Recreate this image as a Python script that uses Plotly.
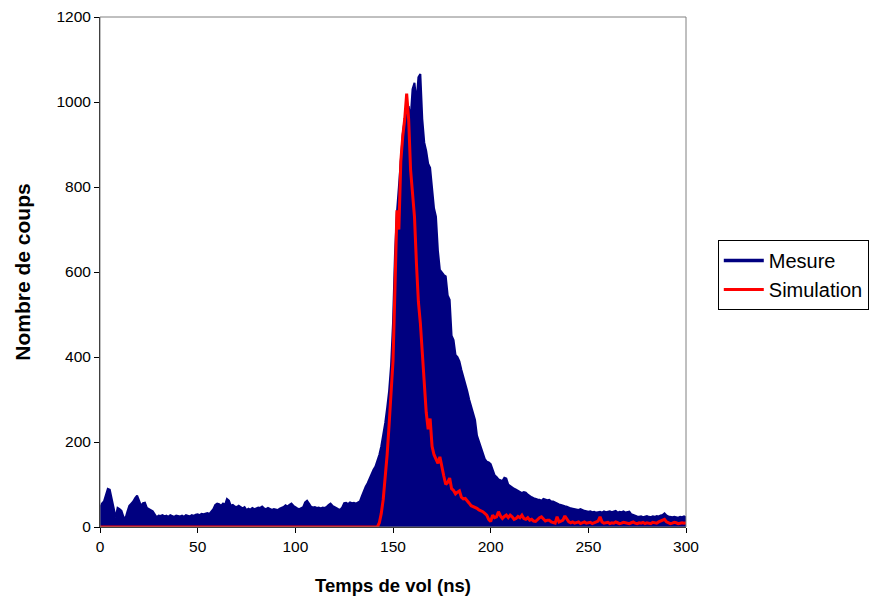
import plotly.graph_objects as go

# Temps de vol (ns), pas de 1 ns
temps = list(range(0, 301))

mesure = [
    45, 55, 60, 75, 90, 88, 70, 45, 22, 45,
    42, 38, 24, 20, 36, 50, 55, 60, 68, 74,
    62, 50, 56, 57, 45, 42, 40, 37, 30, 23,
    27, 26, 28, 25, 27, 24, 28, 26, 24, 27,
    26, 25, 27, 24, 28, 27, 25, 28, 26, 29,
    30, 28, 31, 30, 32, 33, 31, 36, 42, 52,
    55, 54, 50, 55, 52, 66, 62, 50, 52, 48,
    47, 50, 46, 44, 47, 40, 43, 41, 45, 42,
    44, 46, 45, 48, 44, 42, 45, 43, 40, 42,
    41, 40, 43, 45, 47, 51, 48, 52, 55, 50,
    46, 44, 42, 45, 47, 58, 62, 55, 48, 46,
    47, 45, 46, 44, 46, 45, 47, 52, 55, 50,
    47, 44, 42, 41, 46, 56, 57, 54, 58, 56,
    57, 55, 58, 60, 72, 84, 95, 103, 115, 126,
    135, 142, 155, 170, 190, 215, 245, 280, 320, 380,
    480, 640, 740, 800, 865, 925, 960, 975, 990, 960,
    1030, 1045, 1000, 1058, 1066, 960, 905, 885, 855, 845,
    790, 750, 730, 650, 605, 598, 593, 590, 545, 535,
    450, 440, 405, 400, 390, 370, 355, 340, 320, 300,
    285, 268, 252, 215, 200, 185, 172, 160, 154, 152,
    148, 135, 122, 118, 112, 110, 108, 116, 114, 100,
    96, 92, 90, 88, 85, 83, 80, 82, 81, 76,
    72, 70, 68, 66, 65, 64, 62, 66, 65, 63,
    64, 60, 60, 57, 55, 53, 52, 50, 49, 48,
    45, 44, 43, 42, 41, 40, 42, 39, 38, 37,
    36, 37, 35, 36, 34, 35, 36, 34, 37, 35,
    36, 37, 35, 36, 38, 34, 36, 35, 37, 34,
    35, 36, 30, 28, 26, 25, 24, 25, 23, 24,
    26, 24, 23, 25, 24, 26, 25, 27, 28, 32,
    27, 25, 24, 23, 24, 23, 22, 24, 23, 25,
    23,
]

simulation = [
    0, 0, 0, 0, 0, 0, 0, 0, 0, 0,
    0, 0, 0, 0, 0, 0, 0, 0, 0, 0,
    0, 0, 0, 0, 0, 0, 0, 0, 0, 0,
    0, 0, 0, 0, 0, 0, 0, 0, 0, 0,
    0, 0, 0, 0, 0, 0, 0, 0, 0, 0,
    0, 0, 0, 0, 0, 0, 0, 0, 0, 0,
    0, 0, 0, 0, 0, 0, 0, 0, 0, 0,
    0, 0, 0, 0, 0, 0, 0, 0, 0, 0,
    0, 0, 0, 0, 0, 0, 0, 0, 0, 0,
    0, 0, 0, 0, 0, 0, 0, 0, 0, 0,
    0, 0, 0, 0, 0, 0, 0, 0, 0, 0,
    0, 0, 0, 0, 0, 0, 0, 0, 0, 0,
    0, 0, 0, 0, 0, 0, 0, 0, 0, 0,
    0, 0, 0, 0, 0, 0, 0, 0, 0, 0,
    0, 0, 0, 10, 32, 65, 110, 170, 240, 330,
    390, 560, 745, 700, 860, 920, 960, 1020, 960, 840,
    780, 730, 620, 530, 480, 400, 330, 270, 230, 255,
    190, 170, 160, 150, 165, 140, 120, 100, 105, 115,
    90, 86, 78, 82, 85, 70, 66, 67, 60, 56,
    50, 48, 46, 44, 40, 38, 36, 32, 28, 18,
    13, 28, 22, 24, 36, 26, 20, 25, 28, 22,
    28, 24, 18, 20, 25, 22, 28, 20, 18, 22,
    16, 18, 14, 13, 18, 22, 24, 18, 14, 16,
    16, 12, 10, 9, 24, 12, 14, 16, 26, 18,
    12, 10, 12, 9, 11, 12, 8, 10, 12, 9,
    10, 11, 8, 10, 12, 14, 24, 12, 9, 10,
    11, 8, 10, 9, 12, 10, 8, 9, 11, 10,
    9, 8, 10, 12, 9, 8, 10, 9, 11, 8,
    10, 9, 8, 11, 10, 9, 12, 14, 16, 18,
    12, 10, 8, 9, 11, 10, 8, 9, 10, 9,
    10,
]

navy = "#000080"
rouge = "#FF0000"

fig = go.Figure()

# Mesure : aire pleine sous la courbe
fig.add_trace(go.Scatter(x=temps, y=mesure, mode="lines", name="Mesure",
                         line=dict(color=navy, width=2),
                         fill="tozeroy", fillcolor=navy, showlegend=False))
# entrée de légende sous forme de trait
fig.add_trace(go.Scatter(x=[None], y=[None], mode="lines", name="Mesure",
                         line=dict(color=navy, width=3.5)))
fig.add_trace(go.Scatter(x=temps, y=simulation, mode="lines", name="Simulation",
                         line=dict(color=rouge, width=3)))

fig.update_layout(
    width=869, height=603,
    margin=dict(l=100, r=183, t=17, b=76),
    paper_bgcolor="white", plot_bgcolor="white",
    font=dict(family="Liberation Sans, Arial, sans-serif", size=15.5, color="black"),
    legend=dict(xref="container", yref="container", x=0.826, y=0.602,
                xanchor="left", yanchor="top",
                bordercolor="black", borderwidth=1, bgcolor="white",
                font=dict(size=20), itemwidth=40, tracegroupgap=0),
    shapes=[dict(type="rect", xref="paper", yref="paper", x0=0, y0=0, x1=1, y1=1,
                 line=dict(color="#808080", width=1))],
)
fig.update_xaxes(range=[0, 300], tickvals=[0, 50, 100, 150, 200, 250, 300],
                 showgrid=False, zeroline=False, showline=True, linecolor="black",
                 ticks="outside", ticklen=5, tickcolor="black", automargin=False,
                 title=dict(text="<b>Temps de vol (ns)</b>", font=dict(size=18.5), standoff=25))
fig.update_yaxes(range=[0, 1200], tickvals=[0, 200, 400, 600, 800, 1000, 1200],
                 showgrid=False, zeroline=False, showline=True, linecolor="black",
                 ticks="outside", ticklen=5, tickcolor="black", automargin=False,
                 title=dict(text="<b>Nombre de coups</b>", font=dict(size=21), standoff=20))

# pas de marge de page ni de barres de défilement
fig.write_html("out.html", config={"responsive": False, "displayModeBar": False},
               post_script="document.body.style.margin='0px';"
                           "document.body.style.overflow='hidden';")
